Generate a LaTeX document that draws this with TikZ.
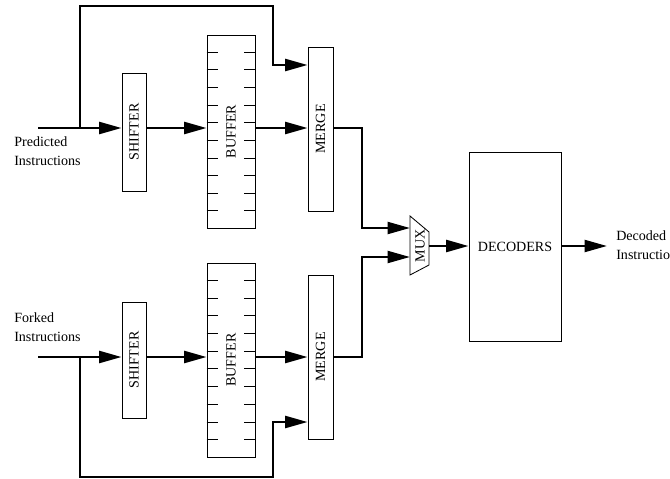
\documentclass[tikz,border=0pt]{standalone}
\usepackage{fontspec}
\setmainfont{Liberation Serif}
\usetikzlibrary{arrows.meta,positioning,calc}
\tikzset{
  blk/.style={draw,line width=0.6pt,inner sep=0pt,font=\fontsize{10}{12}\selectfont},
  lbl/.style={inner sep=0pt,align=left,anchor=north west,font=\fontsize{10}{13.5}\selectfont},
  wire/.style={line width=1.8pt},
  sig/.style={-{Triangle[length=16pt,width=8.5pt]},line width=1.8pt}
}

\begin{document}
\begin{tikzpicture}[x=0.025cm,y=-0.025cm]
  \useasboundingbox (0,0) rectangle (670,479);

  % predicted path
  \node[blk,minimum width=0.6cm,minimum height=2.95cm]  (SH1) at (134,132)   {\rotatebox{90}{SHIFTER}};
  \node[blk,minimum width=1.2cm,minimum height=4.825cm] (BF1) at (231,131.5) {\rotatebox{90}{BUFFER}};
  \node[blk,minimum width=0.625cm,minimum height=4.1cm] (MG1) at (320.5,129) {\rotatebox{90}{MERGE}};

  % forked path
  \node[blk,minimum width=0.6cm,minimum height=2.9cm]   (SH2) at (134,360)   {\rotatebox{90}{SHIFTER}};
  \node[blk,minimum width=1.2cm,minimum height=4.85cm]  (BF2) at (231,360)   {\rotatebox{90}{BUFFER}};
  \node[blk,minimum width=0.625cm,minimum height=4.1cm] (MG2) at (320.5,357) {\rotatebox{90}{MERGE}};

  \node[blk,minimum width=2.3cm,minimum height=4.725cm] (DEC) at (515,246.5) {DECODERS};

  \foreach \b in {BF1,BF2}
    \foreach \k in {1,...,10} {
      \draw[line width=0.6pt] ($(\b.north west)!\k/11!(\b.south west)$) -- ++(11,0);
      \draw[line width=0.6pt] ($(\b.north east)!\k/11!(\b.south east)$) -- ++(-11,0);
    }

  % mux
  \draw[line width=0.6pt] (410,216) -- (429,232) -- (429,265) -- (410,275) -- cycle;
  \node[inner sep=0pt,font=\fontsize{10}{12}\selectfont] (MUX) at (420,246) {\rotatebox{90}{MUX}};
  \coordinate (mx1) at (410,228);
  \coordinate (mx2) at (410,257);
  \coordinate (mxo) at (429,246);

  \node[lbl] (PI) at (14,136.4)  {Predicted\\Instructions};
  \node[lbl] (FI) at (14,312.4)  {Forked\\Instructions};
  \node[lbl] (DI) at (616,230.4) {Decoded\\Instructions};

  \coordinate (in1) at (38,128);
  \coordinate (sp1) at (80,128);
  \coordinate (in2) at (38,357);
  \coordinate (sp2) at (80,357);
  \coordinate (fb1) at (273,65);
  \coordinate (fb2) at (273,422);
  \coordinate (jn1) at (362,228);
  \coordinate (jn2) at (362,257);
  \coordinate (out) at (607,246);

  \draw[sig] (in1) -- (SH1.west |- in1);
  \draw[sig] (SH1.east |- in1) -- (BF1.west |- in1);
  \draw[sig] (BF1.east |- in1) -- (MG1.west |- in1);
  \draw[sig] (sp1) -- (80,6) -| (fb1) -- (MG1.west |- fb1);

  \draw[sig] (in2) -- (SH2.west |- in2);
  \draw[sig] (SH2.east |- in2) -- (BF2.west |- in2);
  \draw[sig] (BF2.east |- in2) -- (MG2.west |- in2);
  \draw[sig] (sp2) -- (80,477) -| (fb2) -- (MG2.west |- fb2);

  \draw[sig] (MG1.east |- in1) -| (jn1) -- (mx1);
  \draw[sig] (MG2.east |- in2) -| (jn2) -- (mx2);
  \draw[sig] (mxo) -- (DEC.west |- mxo);
  \draw[sig] (DEC.east |- mxo) -- (out);

\end{tikzpicture}
\end{document}
